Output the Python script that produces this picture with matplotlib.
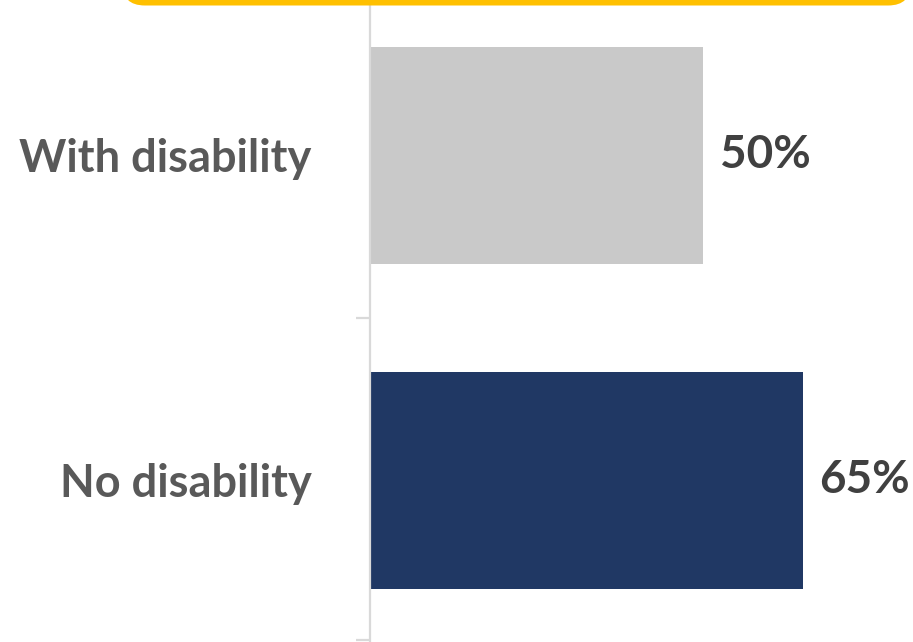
import matplotlib.pyplot as plt
from matplotlib.patches import FancyBboxPatch

categories = ["With disability", "No disability"]
values = [50, 65]
bar_colors = ["#C9C9C9", "#203864"]
value_labels = ["50%", "65%"]

W, H = 913, 642
fig = plt.figure(figsize=(W / 100, H / 100), dpi=100)

# yellow rounded box edge at the very top
box = FancyBboxPatch((122 / W, 1 - 5.5 / H), (W - 124) / W, 0.2,
                     boxstyle="round,pad=0,rounding_size=0.025",
                     transform=fig.transFigure, facecolor="#FFC000",
                     edgecolor="none", mutation_aspect=W / H)
fig.patches.append(box)

ax = fig.add_axes([370 / W, 0, (W - 370) / W, 1])
y = list(range(len(categories)))
ax.barh(y, values, height=0.668, color=bar_colors)

ax.set_xlim(0, (W - 370) / 6.66)
ax.set_ylim(1.497, -0.478)
ax.set_facecolor("none")

for s in ["top", "right", "bottom"]:
    ax.spines[s].set_visible(False)
ax.spines["left"].set_color("#D9D9D9")
ax.spines["left"].set_linewidth(1.6)
ax.spines["left"].set_bounds(-0.46, 1.497)

ax.set_xticks([])
ax.set_yticks([0.5, 1.492], minor=True)
ax.set_yticks(y)
ax.set_yticklabels(categories, fontsize=32.5, fontweight="bold",
                   color="#595959", family="Lato")
ax.tick_params(axis="y", which="major", length=0, pad=42)
ax.tick_params(axis="y", which="minor", length=10, width=1.6, color="#D9D9D9")

for yi, v, lab in zip(y, values, value_labels):
    ax.text(v + 2.5, yi, lab, va="center", ha="left", fontsize=33,
            fontweight="bold", color="#404040", family="Lato")

fig.savefig("out.png", dpi=100)
